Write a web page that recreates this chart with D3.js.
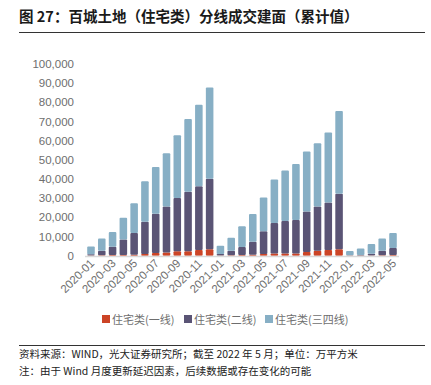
<!DOCTYPE html>
<html>
<head>
<meta charset="utf-8">
<script src="https://cdn.jsdelivr.net/npm/d3@7"></script>
<style>
  body { margin: 0; background: #fff; }
  svg { display: block; font-family: "Noto Sans CJK SC", "Noto Sans", sans-serif; }
</style>
</head>
<body>
<div id="chart"></div>
<script>
// months 2020-01 .. 2022-05
const months = [
  "2020-01","2020-02","2020-03","2020-04","2020-05","2020-06","2020-07","2020-08","2020-09","2020-10","2020-11","2020-12",
  "2021-01","2021-02","2021-03","2021-04","2021-05","2021-06","2021-07","2021-08","2021-09","2021-10","2021-11","2021-12",
  "2022-01","2022-02","2022-03","2022-04","2022-05"
];
// 一线
const tier1 = [150, 250, 300, 350, 450, 900, 1400, 1700, 2300, 2300, 3000, 3300,
               100, 200, 300, 500, 900, 1200, 1200, 1200, 1900, 2600, 3000, 3300,
               50, 80, 150, 250, 350];
// 二线
const tier2 = [650, 2350, 4400, 8150, 11350, 16800, 20500, 23900, 27800, 31100, 33200, 36900,
               800, 2400, 4200, 6800, 11800, 15800, 16900, 17400, 21100, 23100, 24800, 29000,
               150, 220, 850, 2350, 3650];
// 三四线
const tier34 = [4000, 6400, 7600, 11300, 15500, 21100, 24400, 27800, 32700, 37900, 42600, 47500,
                4300, 6800, 10800, 14400, 17700, 22700, 26400, 29200, 31300, 32900, 36500, 43200,
                2200, 3500, 5100, 6400, 7800];
const seriesNames = ["住宅类(一线)", "住宅类(二线)", "住宅类(三四线)"];
const colors = ["#cc4426", "#5a5475", "#87afc5"];
const yTicks = [0, 10000, 20000, 30000, 40000, 50000, 60000, 70000, 80000, 90000, 100000];
const xLabels = months.filter((d, i) => i % 2 === 0);

const width = 431, height = 385;
const svg = d3.select("#chart").append("svg")
  .attr("width", width).attr("height", height);

// title
svg.append("text")
  .attr("x", 19).attr("y", 22)
  .style("font-size", "14.5px").style("font-weight", "bold").style("fill", "#1a1a1a")
  .text("图 27：百城土地（住宅类）分线成交建面（累计值）");
svg.append("line")
  .attr("x1", 19).attr("x2", 425).attr("y1", 32.5).attr("y2", 32.5)
  .style("stroke", "#333").style("stroke-width", 1);

const x = d3.scaleBand().domain(months).range([85.6, 398.4]).paddingInner(0.3).paddingOuter(0.15);
const y = d3.scaleLinear().domain([0, 100000]).range([255.7, 64]);

const data = months.map((m, i) => ({ month: m, t1: tier1[i], t2: tier2[i], t34: tier34[i] }));
const stack = d3.stack().keys(["t1", "t2", "t34"]);
const layers = stack(data);

// y axis labels
svg.append("g").selectAll("text")
  .data(yTicks).enter().append("text")
  .attr("x", 74).attr("y", d => y(d) + 4)
  .style("text-anchor", "end").style("font-size", "11.5px").style("fill", "#6e6e6e")
  .style("font-family", "Liberation Sans, Arial, sans-serif")
  .text(d => d3.format(",")(d));

// bars
svg.append("g").selectAll("g")
  .data(layers).enter().append("g")
  .style("fill", (d, i) => colors[i])
  .selectAll("rect")
  .data(d => d).enter().append("rect")
  .attr("x", d => x(d.data.month))
  .attr("width", x.bandwidth())
  .attr("y", d => y(d[1]))
  .attr("height", d => Math.max(0, y(d[0]) - y(d[1])))
  .attr("rx", 1);

// baseline
svg.append("line")
  .attr("x1", 85).attr("x2", 399).attr("y1", 256.5).attr("y2", 256.5)
  .style("stroke", "#d9d9d9").style("stroke-width", 1.6);

// x labels
svg.append("g").selectAll("text")
  .data(xLabels).enter().append("text")
  .attr("transform", d => `translate(${x(d) + x.bandwidth() / 2 + 4},${264}) rotate(-45)`)
  .style("text-anchor", "end").style("font-size", "11.5px").style("fill", "#6e6e6e")
  .style("font-family", "Liberation Sans, Arial, sans-serif")
  .text(d => d);

// legend
const legendX = [102, 184, 265];
const legend = svg.append("g").selectAll("g")
  .data(seriesNames).enter().append("g")
  .attr("transform", (d, i) => `translate(${legendX[i]},${319})`);
legend.append("rect")
  .attr("x", 0).attr("y", -4).attr("width", 8).attr("height", 8)
  .style("fill", (d, i) => colors[i]);
legend.append("text")
  .attr("x", 10).attr("y", 4.5)
  .style("font-size", "11px").style("fill", "#6e6e6e")
  .text(d => d);

// footer
svg.append("line")
  .attr("x1", 19).attr("x2", 425).attr("y1", 345.5).attr("y2", 345.5)
  .style("stroke", "#333").style("stroke-width", 1);
svg.append("text")
  .attr("x", 19).attr("y", 358)
  .style("font-size", "10.5px").style("fill", "#222")
  .text("资料来源：WIND，光大证券研究所；截至 2022 年 5 月；单位：万平方米");
svg.append("text")
  .attr("x", 19).attr("y", 375)
  .style("font-size", "10.5px").style("fill", "#222")
  .text("注：由于 Wind 月度更新延迟因素，后续数据或存在变化的可能");
</script>
</body>
</html>
